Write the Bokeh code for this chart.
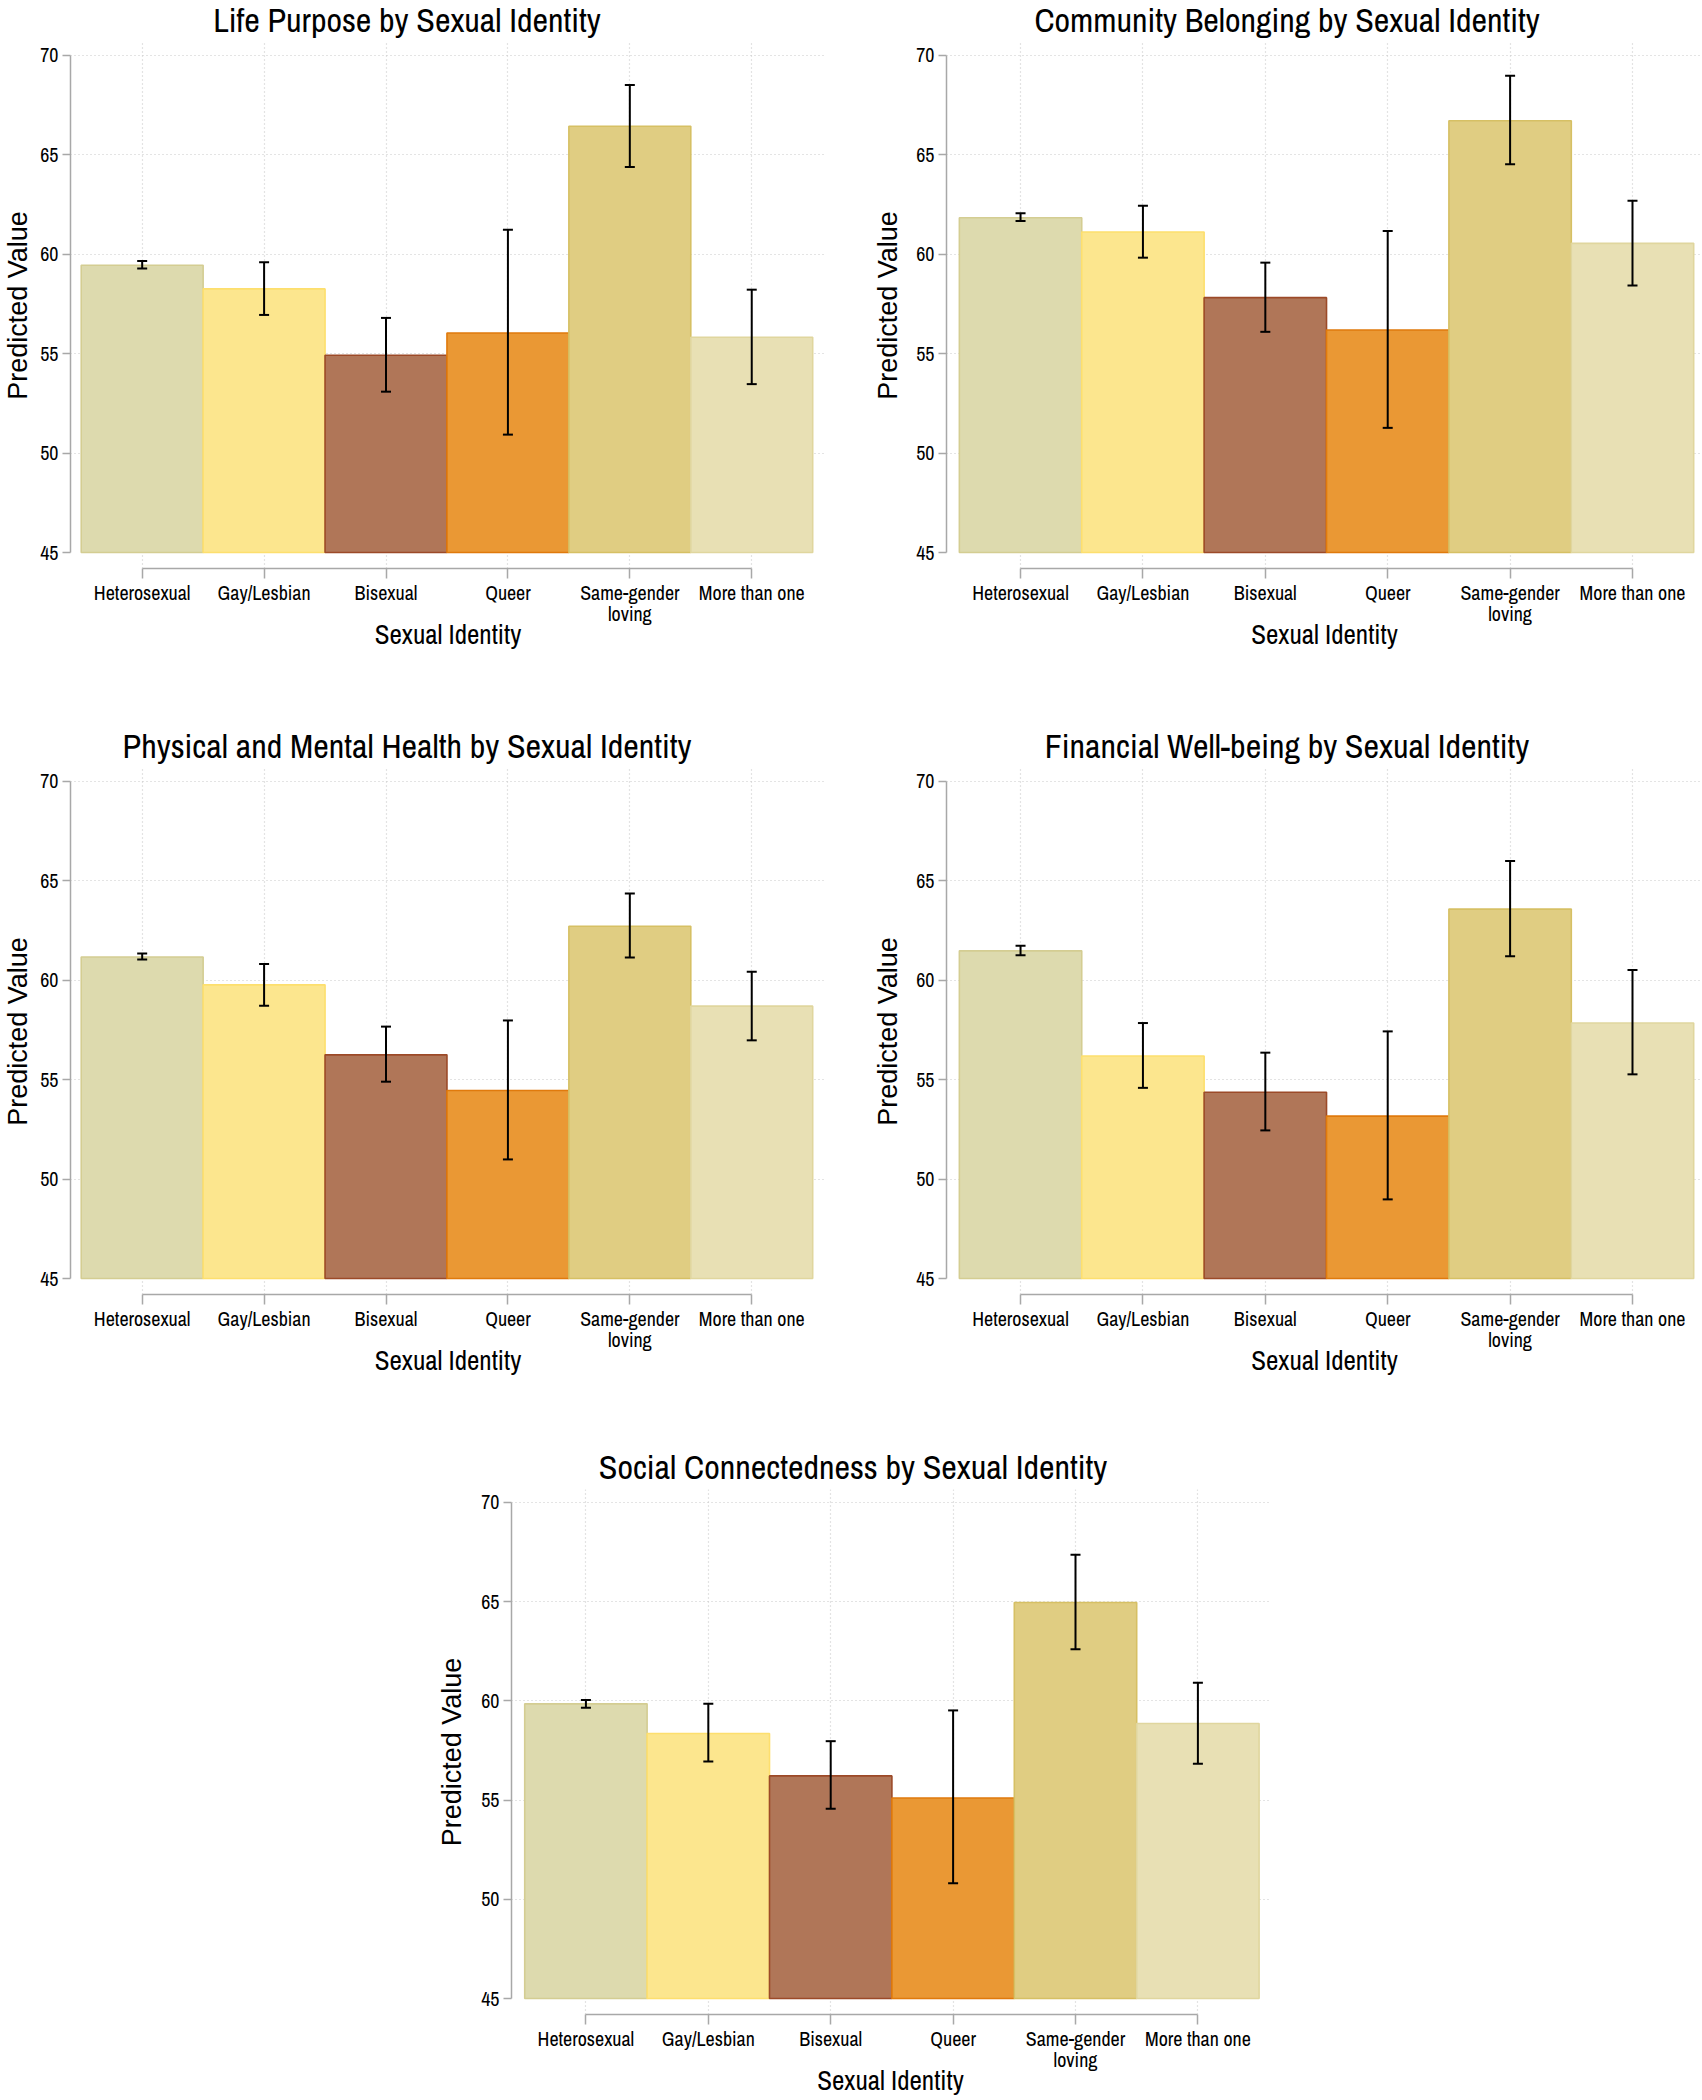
import subprocess
from bokeh.plotting import figure
from bokeh.models import ColumnDataSource, FixedTicker, Range1d, Whisker, TeeHead, Spacer, Div
from bokeh.layouts import column, row
from bokeh.embed import file_html
from bokeh.resources import INLINE

# ---------------- data ----------------
categories = ["Heterosexual", "Gay/Lesbian", "Bisexual", "Queer", "Same-gender\nloving", "More than one"]
fill_colors = ["#DDDAAE", "#FCE68E", "#B07658", "#EA9834", "#E0CD82", "#E8E0B4"]
edge_colors = ["#D4CD92", "#FDDF6E", "#9C4A28", "#E07A0C", "#D6C064", "#E0D69E"]
y_ticks = [45, 50, 55, 60, 65, 70]
y_grid = [50, 55, 60, 65, 70]

titles = [
    "Life Purpose by Sexual Identity",
    "Community Belonging by Sexual Identity",
    "Physical and Mental Health by Sexual Identity",
    "Financial Well-being by Sexual Identity",
    "Social Connectedness by Sexual Identity",
]
x_label = "Sexual Identity"
y_label = "Predicted Value"

life_purpose_est = [59.45, 58.26, 54.92, 56.04, 66.44, 55.83]
life_purpose_lo = [59.28, 56.95, 53.09, 50.93, 64.39, 53.47]
life_purpose_hi = [59.66, 59.60, 56.80, 61.23, 68.52, 58.22]

community_est = [61.84, 61.12, 57.82, 56.19, 66.72, 60.55]
community_lo = [61.67, 59.83, 56.10, 51.27, 64.53, 58.43]
community_hi = [62.06, 62.44, 59.58, 61.17, 68.98, 62.69]

health_est = [61.17, 59.77, 56.25, 54.46, 62.72, 58.70]
health_lo = [61.04, 58.72, 54.90, 50.99, 61.15, 56.98]
health_hi = [61.35, 60.82, 57.67, 57.98, 64.36, 60.43]

financial_est = [61.48, 56.19, 54.37, 53.17, 63.58, 57.85]
financial_lo = [61.26, 54.59, 52.45, 48.98, 61.21, 55.27]
financial_hi = [61.74, 57.85, 56.36, 57.43, 66.00, 60.52]

social_est = [59.85, 58.36, 56.22, 55.11, 64.96, 58.86]
social_lo = [59.65, 56.94, 54.56, 50.81, 62.60, 56.83]
social_hi = [60.04, 59.85, 57.97, 59.52, 67.36, 60.92]

# ---------------- fonts ----------------
try:
    _out = subprocess.run(["fc-list", ":", "family"], capture_output=True, text=True).stdout
except Exception:
    _out = ""
_fams = set()
for _line in _out.splitlines():
    for _f in _line.split(","):
        _fams.add(_f.strip())


def pick(cands, default):
    for c in cands:
        if c in _fams:
            return c
    return default


NARROW = pick(["Archivo Narrow", "Liberation Sans Narrow", "Arial Narrow", "PT Sans Narrow",
               "Roboto Condensed", "DejaVu Sans Condensed"], "Liberation Sans")
REGULAR = pick(["Liberation Sans", "Arial", "Noto Sans"], "DejaVu Sans")

AXIS_GRAY = "#A8A8A8"
GRID_GRAY = "#C8C8C8"
TITLE_H = 40


def make_title(text, width, center):
    if center < width / 2:
        pad = "padding-right:%dpx;" % round(width - 2 * center)
    else:
        pad = "padding-left:%dpx;" % round(2 * center - width)
    html = ('<div style="width:%dpx;box-sizing:border-box;font-family:\'%s\',sans-serif;'
            'font-size:34px;line-height:%dpx;color:black;text-align:center;white-space:nowrap;%s">%s</div>'
            % (width, NARROW, TITLE_H, pad, text))
    return Div(text=html, width=width, height=TITLE_H, margin=0)


def make_panel(title, est, lo, hi, width, height, border_left, border_right,
               x_start, x_end, title_center, ylab_standoff):
    frame_top = 2
    frame_bottom = 528
    p = figure(width=width, height=height, output_backend="svg", toolbar_location=None,
               x_range=Range1d(x_start, x_end), y_range=Range1d(44.196, 70.653),
               min_border_left=border_left, min_border_right=border_right,
               min_border_top=frame_top, min_border_bottom=height - frame_bottom)
    p.outline_line_color = None
    p.background_fill_color = "white"
    p.border_fill_color = "white"

    xs = list(range(len(categories)))
    src = ColumnDataSource(dict(x=xs, top=est, lo=lo, hi=hi,
                                fill=fill_colors, edge=edge_colors))
    p.vbar(x="x", top="top", bottom=y_ticks[0], width=1.0, source=src,
           fill_color="fill", line_color="edge", line_width=1.6)

    wk = Whisker(base="x", upper="hi", lower="lo", source=src,
                 line_color="black", line_width=2,
                 upper_head=TeeHead(size=10, line_color="black", line_width=2),
                 lower_head=TeeHead(size=10, line_color="black", line_width=2))
    wk.level = "overlay"
    p.add_layout(wk)

    xa = p.xaxis[0]
    xa.ticker = FixedTicker(ticks=xs)
    xa.major_label_overrides = {i: c for i, c in enumerate(categories)}
    xa.bounds = (xs[0], xs[-1])
    xa.axis_line_color = AXIS_GRAY
    xa.axis_line_width = 1.5
    xa.major_tick_line_color = AXIS_GRAY
    xa.major_tick_line_width = 1.5
    xa.major_tick_out = 10
    xa.major_tick_in = 0
    xa.minor_tick_line_color = None
    xa.major_label_text_font = NARROW
    xa.major_label_text_font_size = "20px"
    xa.major_label_text_color = "black"
    xa.major_label_standoff = 0
    xa.major_label_text_line_height = 0.78
    xa.axis_label = x_label
    xa.axis_label_text_font = NARROW
    xa.axis_label_text_font_size = "27px"
    xa.axis_label_text_font_style = "normal"
    xa.axis_label_text_color = "black"
    xa.axis_label_standoff = -14

    ya = p.yaxis[0]
    ya.ticker = FixedTicker(ticks=y_ticks)
    ya.bounds = (y_ticks[0], y_ticks[-1])
    ya.axis_line_color = AXIS_GRAY
    ya.axis_line_width = 1.5
    ya.major_tick_line_color = AXIS_GRAY
    ya.major_tick_line_width = 1.5
    ya.major_tick_out = 8
    ya.major_tick_in = 0
    ya.minor_tick_line_color = None
    ya.major_label_text_font = NARROW
    ya.major_label_text_font_size = "20px"
    ya.major_label_text_color = "black"
    ya.major_label_standoff = 4
    ya.axis_label = y_label
    ya.axis_label_text_font = REGULAR
    ya.axis_label_text_font_size = "27px"
    ya.axis_label_text_font_style = "normal"
    ya.axis_label_text_color = "black"
    ya.axis_label_standoff = ylab_standoff

    p.xgrid.ticker = FixedTicker(ticks=xs)
    p.ygrid.ticker = FixedTicker(ticks=y_grid)
    for g in (p.xgrid[0], p.ygrid[0]):
        g.grid_line_color = GRID_GRAY
        g.grid_line_dash = "1 3"
        g.grid_line_width = 1.2

    return column(make_title(title, width, title_center), p)


H1, H2, H3 = 686, 681, 613
pA1 = make_panel(titles[0], life_purpose_est, life_purpose_lo, life_purpose_hi,
                 866, H1, 67, 41, -0.588, 5.605, 407, 4)
pB1 = make_panel(titles[1], community_est, community_lo, community_hi,
                 836, H1, 80, 0, -0.605, 5.572, 421, 10)
pA2 = make_panel(titles[2], health_est, health_lo, health_hi,
                 866, H2, 67, 41, -0.588, 5.605, 407, 4)
pB2 = make_panel(titles[3], financial_est, financial_lo, financial_hi,
                 836, H2, 80, 0, -0.605, 5.572, 421, 10)
pC = make_panel(titles[4], social_est, social_lo, social_hi,
                859, H3, 81, 20, -0.608, 5.585, 423, 11)

layout = column(row(pA1, pB1),
                row(pA2, pB2),
                row(Spacer(width=430, height=10), pC))

open("out.html", "w").write(file_html(layout, INLINE))
